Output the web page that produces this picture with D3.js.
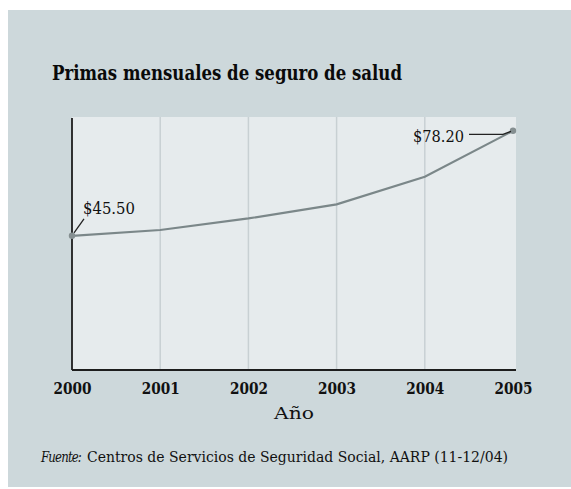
<!DOCTYPE html>
<html>
<head>
<meta charset="utf-8">
<script src="https://cdn.jsdelivr.net/npm/d3@7"></script>
<style>
  html, body { margin: 0; padding: 0; background: #ffffff; }
  svg { display: block; }
  svg text { font-family: "DejaVu Serif", serif; }
</style>
</head>
<body>
<svg id="chart" width="571" height="489"></svg>
<script>
// Monthly health insurance premiums, 2000–2005
const years = [2000, 2001, 2002, 2003, 2004, 2005];
const premiums = [45.50, 47.3, 50.9, 55.3, 63.9, 78.20];
const tickLabels = ["2000", "2001", "2002", "2003", "2004", "2005"];
const labelledValues = ["$45.50", "$78.20"];

const svg = d3.select("#chart");
const W = 571, H = 489;
const SERIF = "DejaVu Serif, serif";

// Background panel
svg.append("rect").attr("x", 8).attr("y", 10).attr("width", W - 8).attr("height", 477)
  .attr("fill", "#cdd8db");

const plot = { left: 72, right: 516, top: 117, bottom: 370 };
const x = d3.scaleLinear().domain([2000, 2005]).range([plot.left, plot.right - 3]);
const y = d3.scaleLinear().domain([3.7, 82.5]).range([plot.bottom, plot.top]);

// Plot area
svg.append("rect")
  .attr("x", plot.left).attr("y", plot.top)
  .attr("width", plot.right - plot.left).attr("height", plot.bottom - plot.top)
  .attr("fill", "#e6ebed");

// Vertical grid lines
svg.append("g").selectAll("line")
  .data(years.slice(1, -1))
  .join("line")
  .attr("x1", d => x(d)).attr("x2", d => x(d))
  .attr("y1", plot.top).attr("y2", plot.bottom)
  .attr("stroke", "#c8d0d3").attr("stroke-width", 1.5);

// Axis lines
svg.append("line")
  .attr("x1", plot.left).attr("x2", plot.left)
  .attr("y1", plot.top + 1).attr("y2", plot.bottom)
  .attr("stroke", "#1d1d1d").attr("stroke-width", 1.8);
svg.append("line")
  .attr("x1", plot.left).attr("x2", plot.right)
  .attr("y1", plot.bottom).attr("y2", plot.bottom)
  .attr("stroke", "#1d1d1d").attr("stroke-width", 1.8);

// Year labels
const xAxis = d3.axisBottom(x)
  .tickValues(years)
  .tickFormat((d, i) => tickLabels[i])
  .tickSize(0).tickPadding(0);
const axisG = svg.append("g")
  .attr("transform", `translate(0,${plot.bottom})`)
  .call(xAxis);
axisG.attr("font-family", SERIF);
axisG.select(".domain").remove();
axisG.selectAll("text")
  .attr("y", 24).attr("dy", 0)
  .attr("font-weight", "bold")
  .attr("font-size", 17.5)
  .attr("textLength", 38)
  .attr("lengthAdjust", "spacingAndGlyphs")
  .attr("fill", "#111");

// Axis title
svg.append("text")
  .attr("x", (plot.left + plot.right) / 2).attr("y", 419)
  .attr("text-anchor", "middle")
  .attr("font-size", 17.5)
  .attr("textLength", 40)
  .attr("lengthAdjust", "spacingAndGlyphs")
  .attr("fill", "#111")
  .text("Año");

// Premium line
const line = d3.line().x((d, i) => x(years[i])).y(d => y(d));
svg.append("path")
  .datum(premiums)
  .attr("d", line)
  .attr("fill", "none")
  .attr("stroke", "#7b8789")
  .attr("stroke-width", 2.2);

// End point markers
const ends = [0, premiums.length - 1];
svg.append("g").selectAll("circle")
  .data(ends)
  .join("circle")
  .attr("cx", i => x(years[i])).attr("cy", i => y(premiums[i]))
  .attr("r", 3.2)
  .attr("fill", "#858f91");

// Value labels with leader lines
const first = { x: x(years[0]), y: y(premiums[0]) };
const last = { x: x(years[5]), y: y(premiums[5]) };

svg.append("line")
  .attr("x1", first.x + 2).attr("y1", first.y - 3)
  .attr("x2", first.x + 12).attr("y2", first.y - 17)
  .attr("stroke", "#222").attr("stroke-width", 1.3);
svg.append("text")
  .attr("x", first.x + 11).attr("y", first.y - 22)
  .attr("font-size", 16.5)
  .attr("textLength", 52)
  .attr("lengthAdjust", "spacingAndGlyphs")
  .attr("fill", "#111")
  .text(labelledValues[0]);

svg.append("polyline")
  .attr("points", `${last.x - 44},${last.y + 3.5} ${last.x - 10},${last.y + 3.5} ${last.x - 2},${last.y + 0.5}`)
  .attr("fill", "none")
  .attr("stroke", "#222").attr("stroke-width", 1.3);
svg.append("text")
  .attr("x", last.x - 100).attr("y", last.y + 11)
  .attr("font-size", 16.5)
  .attr("textLength", 51)
  .attr("lengthAdjust", "spacingAndGlyphs")
  .attr("fill", "#111")
  .text(labelledValues[1]);

// Title
svg.append("text")
  .attr("x", 52).attr("y", 80)
  .attr("font-weight", "bold")
  .attr("font-size", 20.5)
  .attr("textLength", 350)
  .attr("lengthAdjust", "spacingAndGlyphs")
  .attr("fill", "#0a0a0a")
  .text("Primas mensuales de seguro de salud");

// Source note
svg.append("text")
  .attr("x", 41).attr("y", 462)
  .attr("font-size", 14)
  .attr("letter-spacing", -1)
  .attr("font-style", "italic")
  .attr("textLength", 40)
  .attr("lengthAdjust", "spacingAndGlyphs")
  .attr("fill", "#111")
  .text("Fuente:");
svg.append("text")
  .attr("x", 87).attr("y", 462)
  .attr("font-size", 14)
  .attr("textLength", 421)
  .attr("lengthAdjust", "spacingAndGlyphs")
  .attr("fill", "#111")
  .text("Centros de Servicios de Seguridad Social, AARP (11-12/04)");
</script>
</body>
</html>
